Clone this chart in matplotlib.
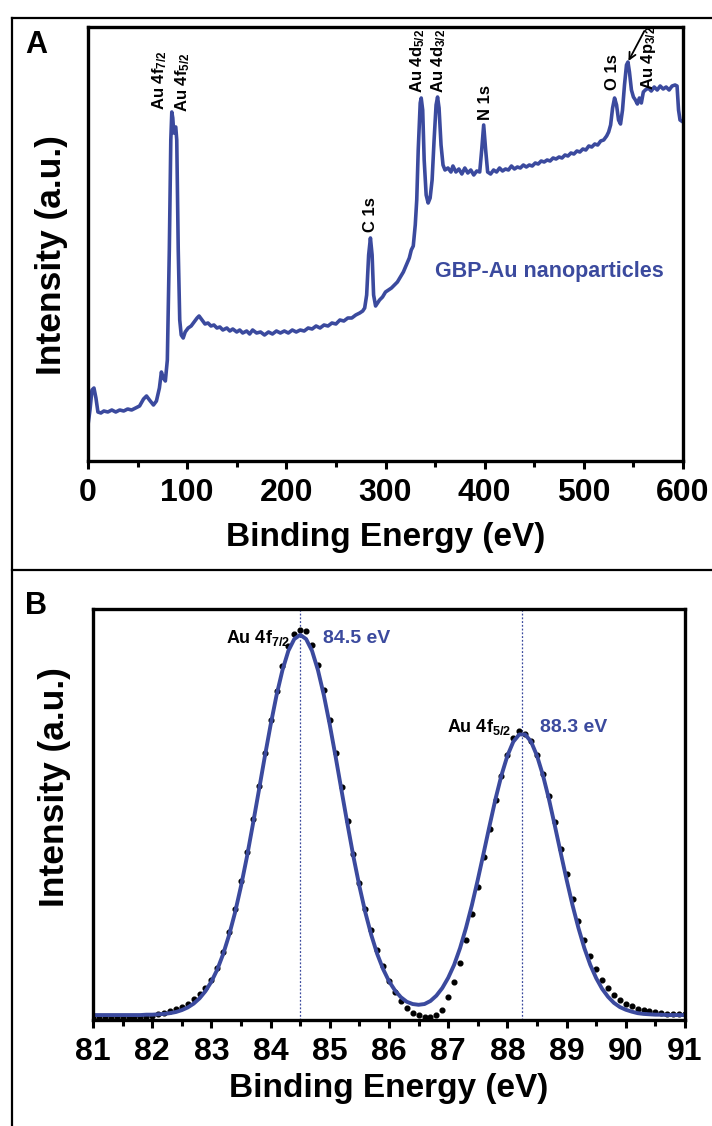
import numpy as np
import matplotlib

matplotlib.use("Agg")
import matplotlib.pyplot as plt
from matplotlib.lines import Line2D
from matplotlib.ticker import MultipleLocator

plt.rcParams["font.family"] = ["Liberation Sans", "DejaVu Sans"]
plt.rcParams["font.weight"] = "bold"
plt.rcParams["mathtext.fontset"] = "custom"
plt.rcParams["mathtext.rm"] = "Liberation Sans:bold"
plt.rcParams["mathtext.it"] = "Liberation Sans:bold"
plt.rcParams["mathtext.bf"] = "Liberation Sans:bold"

BLUE = "#3b4a9e"

# ---- panel A: survey spectrum (binding energy, intensity a.u.) ----
survey_be = [
    0, 2, 4, 6, 8, 10, 13, 16, 20, 24, 28, 32, 36, 40, 44, 48, 52, 56, 59, 62,
    66, 69, 72, 74, 76, 78, 80, 82, 83.5, 84.5, 85.5, 86.5, 87.5, 88.5, 89.5, 91, 92.5, 94, 96, 98,
    101, 104, 107, 110, 112, 115, 118, 121, 124, 127, 130, 133, 136, 140, 143, 146, 150, 153, 156, 160,
    163, 166, 170, 174, 178, 182, 186, 190, 194, 198, 202, 206, 210, 214, 218, 222, 226, 230, 234, 238,
    242, 246, 250, 254, 258, 262, 266, 270, 274, 277, 279, 281, 283, 284.8, 286.5, 288, 290, 292, 294, 297,
    300, 303, 306, 309, 312, 315, 318, 321, 324, 326, 328, 330, 331.5, 333, 335, 336, 337.5, 339, 341, 343,
    345, 347, 349, 351, 352.5, 354, 356, 358, 360, 363, 366, 368, 371, 374, 377, 380, 383, 386, 389, 392,
    395, 397, 399, 401, 403, 406, 409, 412, 415, 418, 421, 424, 427, 430, 433, 436, 439, 442, 445, 448,
    451, 454, 457, 460, 463, 466, 469, 472, 475, 478, 481, 484, 487, 490, 493, 496, 499, 502, 505, 508,
    511, 514, 517, 520, 523, 525, 527, 529, 531, 533, 535, 537, 539, 541, 543, 544.5, 546, 548, 550, 552,
    554, 556, 558, 560, 562, 565, 568, 571, 574, 577, 580, 583, 586, 589, 592, 594, 595.5, 597, 600,
]
survey_int = [
    36, 51, 71, 73, 63, 49, 48, 50, 49, 51, 49, 51, 50, 52, 51, 53, 55, 62, 65, 61,
    56, 60, 73, 89, 83, 80, 101, 211, 321, 349, 343, 328, 333, 334, 321, 211, 141, 126, 123, 129,
    133, 135, 139, 143, 145, 141, 137, 138, 135, 136, 133, 134, 131, 133, 130, 132, 129, 131, 128, 130,
    127, 131, 128, 129, 126, 129, 127, 130, 128, 130, 128, 131, 129, 131, 130, 133, 132, 135, 133, 136,
    135, 138, 137, 141, 140, 143, 143, 146, 148, 150, 153, 166, 206, 223, 206, 166, 155, 158, 161, 164,
    169, 171, 173, 176, 179, 184, 189, 196, 203, 211, 215, 236, 261, 311, 358, 363, 351, 301, 266, 258,
    263, 281, 321, 356, 364, 353, 316, 296, 291, 293, 289, 295, 289, 292, 287, 293, 288, 291, 286, 290,
    289, 311, 336, 311, 289, 287, 291, 289, 293, 290, 292, 291, 295, 292, 294, 293, 296, 294, 296, 295,
    298, 297, 300, 299, 301, 300, 303, 302, 304, 303, 306, 305, 308, 307, 310, 309, 312, 311, 315, 314,
    317, 316, 320, 321, 325, 329, 336, 353, 363, 356, 341, 337, 351, 376, 396, 399, 389, 371, 364, 361,
    357, 363, 358, 369, 371, 373, 370, 374, 371, 375, 372, 374, 371, 375, 376, 375, 351, 341, 339,
]

survey_labels = [
    ("Au 4f$_{7/2}$", 72.6, 351),
    ("Au 4f$_{5/2}$", 95.8, 349),
    ("C 1s", 284.5, 229),
    ("Au 4d$_{5/2}$", 332, 368),
    ("Au 4d$_{3/2}$", 354, 368),
    ("N 1s", 401, 341),
    ("O 1s", 529, 371),
    ("Au 4p$_{3/2}$", 565, 371),
]

# ---- panel B: Au 4f high resolution ----
hr_be = np.linspace(81, 91, 101)
hr_fit = [
    0.0, 0.0, 0.0, 0.0, 0.0, 0.0, 0.0, 0.0, 0.0,
    0.1, 0.1, 0.2, 0.3, 0.5, 0.8, 1.3, 2.0, 3.0, 4.4, 6.3,
    8.8, 12.0, 16.1, 21.1, 27.0, 33.9, 41.6, 50.1, 58.9, 67.8,
    76.3, 84.1, 90.7, 95.8, 98.9, 100.0, 98.9, 95.8, 90.7, 84.1,
    76.3, 67.8, 58.9, 50.1, 41.6, 33.9, 27.0, 21.1, 16.1, 12.1,
    8.9, 6.5, 4.7, 3.5, 2.9, 2.7, 2.9, 3.7, 5.1, 7.1,
    9.8, 13.2, 17.6, 22.9, 28.9, 35.6, 42.7, 49.9, 56.9, 63.1,
    68.2, 71.9, 73.8, 73.8, 71.9, 68.2, 63.1, 56.9, 49.9, 42.7,
    35.6, 28.9, 22.9, 17.6, 13.2, 9.7, 6.9, 4.8, 3.2, 2.1,
    1.4, 0.9, 0.5, 0.3, 0.2, 0.1, 0.1, 0.0, 0.0, 0.0,
    0.0,
]
hr_raw = [
    -0.7, -0.7, -0.7, -0.6, -0.7, -0.6, -0.7, -0.6, -0.5, -0.4,
    -0.2, 0.2, 0.6, 1.0, 1.5, 2.2, 3.0, 4.2, 5.6, 7.0,
    9.3, 12.3, 16.5, 21.8, 28.0, 35.2, 43.0, 51.5, 60.2, 69.0,
    77.5, 85.2, 91.8, 97.0, 100.2, 101.2, 101.0, 97.4, 92.0, 85.5,
    77.6, 69.0, 60.0, 51.0, 42.3, 34.8, 28.0, 22.3, 17.2, 12.8,
    9.0, 6.0, 3.6, 1.8, 0.6, 0.0, -0.4, -0.5, -0.1, 1.4,
    4.8, 8.8, 13.8, 19.8, 26.5, 33.8, 41.5, 49.0, 56.5, 63.0,
    68.5, 72.8, 74.6, 74.0, 72.0, 68.5, 63.5, 57.5, 50.8, 43.8,
    37.0, 30.5, 24.8, 19.8, 15.5, 12.0, 9.2, 7.0, 5.3, 4.0,
    3.0, 2.3, 1.7, 1.3, 1.0, 0.7, 0.5, 0.4, 0.3, 0.3, 0.2,
]
peak_pos = [84.5, 88.25]
peak_text = ["84.5 eV", "88.3 eV"]
peak_names = ["Au 4f$_{7/2}$", "Au 4f$_{5/2}$"]

W, H = 712, 1126
fig = plt.figure(figsize=(W / 100, H / 100), dpi=100)


def frac(l, t, r, b):
    return [l / W, 1 - b / H, (r - l) / W, (b - t) / H]


def style_axis(ax):
    for s in ax.spines.values():
        s.set_linewidth(2.4)
    ax.tick_params(axis="x", which="major", direction="out", length=6, width=2.2,
                   labelsize=23, pad=6)
    ax.tick_params(axis="x", which="minor", direction="out", length=4, width=2.2)
    ax.tick_params(axis="y", which="both", left=False, labelleft=False)
    for lab in ax.get_xticklabels():
        lab.set_fontweight("bold")


# panel A
axA = fig.add_axes(frac(88, 27, 683, 461))
axA.plot(survey_be, survey_int, color=BLUE, lw=2.6)
axA.set_xlim(0, 600)
axA.set_ylim(0, 434)
axA.xaxis.set_major_locator(MultipleLocator(100))
axA.xaxis.set_minor_locator(MultipleLocator(50))
style_axis(axA)
for txt, x, y in survey_labels:
    axA.text(x, y, txt, rotation=90, ha="center", va="bottom", fontsize=12,
             fontweight="bold")
axA.annotate("", xy=(545, 400), xytext=(561, 430),
             arrowprops=dict(arrowstyle="->", color="black", lw=1.3,
                             mutation_scale=12, shrinkA=0, shrinkB=0))
axA.text(465, 189, "GBP-Au nanoparticles", color=BLUE, fontsize=15.5,
         fontweight="bold", ha="center", va="center")
axA.set_xlabel("Binding Energy (eV)", fontsize=24, fontweight="bold")
axA.xaxis.set_label_coords(0.5, -0.14)
axA.set_ylabel("Intensity (a.u.)", fontsize=25.5, fontweight="bold")
axA.yaxis.set_label_coords(-0.033, 0.475)

# panel B
axB = fig.add_axes(frac(93, 609, 685, 1020))
for p in peak_pos:
    axB.axvline(p, color=BLUE, lw=0.9, ls=(0, (1.5, 1.5)))
axB.plot(hr_be, hr_raw, ls="none", marker="o", ms=3.4, color="black")
axB.plot(hr_be, hr_fit, color=BLUE, lw=2.8)
axB.set_xlim(81, 91)
axB.set_ylim(-1.3, 106.8)
axB.xaxis.set_major_locator(MultipleLocator(1))
axB.xaxis.set_minor_locator(MultipleLocator(0.5))
style_axis(axB)
axB.text(84.33, 97.9, peak_names[0], ha="right", va="baseline", fontsize=13,
         fontweight="bold")
axB.text(84.88, 97.9, peak_text[0], ha="left", va="baseline", fontsize=14,
         fontweight="bold", color=BLUE)
axB.text(88.07, 74.5, peak_names[1], ha="right", va="baseline", fontsize=13,
         fontweight="bold")
axB.text(88.55, 74.5, peak_text[1], ha="left", va="baseline", fontsize=14,
         fontweight="bold", color=BLUE)
axB.set_xlabel("Binding Energy (eV)", fontsize=24, fontweight="bold")
axB.xaxis.set_label_coords(0.5, -0.13)
axB.set_ylabel("Intensity (a.u.)", fontsize=25.5, fontweight="bold")
axB.yaxis.set_label_coords(-0.038, 0.567)

# outer frame and panel letters
for xs, ys in [([12, 12], [18, H]), ([12, W], [18, 18]), ([12, W], [570, 570])]:
    fig.add_artist(Line2D([x / W for x in xs], [1 - y / H for y in ys],
                          transform=fig.transFigure, color="black", lw=1.6))
fig.text(36 / W, 1 - 45 / H, "A", fontsize=22, fontweight="bold",
         ha="center", va="center")
fig.text(36 / W, 1 - 606 / H, "B", fontsize=22, fontweight="bold",
         ha="center", va="center")

fig.savefig("out.png", dpi=100)
